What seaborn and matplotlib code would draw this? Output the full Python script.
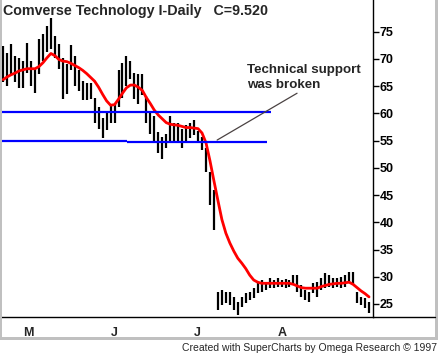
import numpy as np
import pandas as pd
import matplotlib
matplotlib.use("Agg")
import matplotlib.pyplot as plt
import seaborn as sns
from matplotlib.lines import Line2D
from matplotlib.patches import Rectangle

# daily high / low, Apr 24 - Sep 4 1997 (trading days)
high = [72.4, 71.0, 72.8, 70.6, 70.2, 69.7, 73.0, 69.7, 68.2, 73.7,
        74.6, 76.1, 77.6, 74.3, 72.8, 70.2, 69.1, 72.5, 70.5, 67.9,
        66.0, 65.5, 65.5, 62.9, 61.1, 59.2, 60.0, 61.8, 61.8, 67.9,
        69.3, 70.6, 69.7, 67.5, 67.3, 67.3, 63.2, 60.5, 59.6, 56.5,
        55.6, 56.3, 59.6, 58.2, 58.2, 57.2, 57.8, 58.3, 58.7, 56.8,
        55.6, 53.6, 49.2, 45.9, 27.2, 27.6, 27.2, 27.2, 26.3, 25.4,
        26.3, 27.0, 27.2, 27.9, 29.0, 29.4, 29.0, 29.8, 29.4, 29.8,
        29.4, 29.6, 29.4, 30.3, 30.3, 28.5, 27.6, 27.2, 28.8, 29.0,
        29.8, 30.7, 30.3, 29.8, 29.8, 30.0, 30.3, 30.9, 30.9, 27.2,
        26.3, 26.1, 25.4]
low = [65.7, 65.1, 67.0, 65.7, 64.7, 64.6, 67.5, 65.1, 63.8, 67.3,
       69.7, 71.2, 71.9, 70.1, 68.2, 62.7, 63.6, 68.0, 65.0, 64.2,
       62.4, 62.4, 62.7, 58.3, 57.2, 55.4, 56.9, 58.2, 58.3, 61.1,
       62.9, 65.1, 66.4, 62.7, 61.8, 63.3, 58.2, 56.3, 54.5, 52.8,
       51.7, 53.6, 54.5, 55.0, 54.5, 53.6, 54.7, 55.4, 56.0, 54.5,
       53.2, 49.2, 43.1, 38.6, 23.9, 24.8, 25.2, 24.8, 23.9, 23.0,
       24.4, 25.2, 25.7, 26.1, 27.0, 27.2, 27.6, 27.9, 27.9, 28.1,
       28.1, 27.9, 28.1, 28.5, 27.2, 26.3, 25.7, 25.4, 27.0, 26.3,
       27.6, 27.9, 28.1, 27.9, 28.1, 27.9, 28.1, 29.0, 28.5, 25.2,
       24.8, 24.2, 23.4]
moving_avg = [66.2, 66.7, 67.1, 67.4, 67.8, 68.0, 68.2, 68.2, 68.2, 68.6,
              69.3, 70.2, 71.0, 70.6, 69.9, 69.6, 69.5, 69.2, 68.8, 68.4,
              67.9, 67.3, 66.6, 65.9, 64.8, 63.5, 62.3, 61.5, 61.6, 62.6,
              63.7, 64.7, 65.2, 65.2, 64.8, 64.2, 62.9, 61.8, 60.6, 59.7,
              59.0, 58.3, 58.0, 57.9, 57.8, 57.6, 57.4, 57.4, 57.3, 57.2,
              56.4, 54.6, 51.3, 47.6, 44.0, 40.5, 38.0, 36.2, 34.7, 33.4,
              32.5, 31.5, 30.3, 29.4, 29.0, 28.8, 28.8, 28.8, 28.8, 28.8,
              28.8, 28.8, 28.8, 28.6, 28.3, 28.0, 27.9, 27.9, 27.9, 27.9,
              28.2, 28.4, 28.6, 28.7, 28.8, 28.8, 28.9, 29.0, 28.6, 28.0,
              27.4, 26.9, 26.3]

# support lines: level, first day, last day
support_level = [60.2, 54.9, 54.75]
support_start = [-0.3, -0.3, 31.1]
support_end = [67.3, 31.1, 66.3]

month_ticks = [5, 27, 48, 69]
month_labels = ["M", "J", "J", "A"]
week_ticks = [4, 9, 14, 19, 23, 33, 38, 43, 52, 57, 62, 72, 77, 82, 87]
price_ticks = [25, 30, 35, 40, 45, 50, 55, 60, 65, 70, 75]

sns.set_style("white")
plt.rcParams["font.family"] = ["Liberation Sans", "DejaVu Sans"]

days = np.arange(len(high))

fig = plt.figure(figsize=(4.38, 3.54), dpi=100)
ax = fig.add_axes([2 / 438, 37 / 354, 371 / 438, 317 / 354])

ax.vlines(days, low, high, color="black", lw=1.6)
sns.lineplot(x=days, y=moving_avg, color="#ff0000", lw=2.0, ax=ax)
for lev, x0, x1 in zip(support_level, support_start, support_end):
    ax.hlines(lev, x0, x1, color="#0000ff", lw=1.6)

ax.plot([73.9, 53.8], [63.7, 55.1], color="#4a4242", lw=0.9)
ax.text(61.3, 67.4, "Technical support", fontsize=9.6, fontweight="bold", va="baseline")
ax.text(61.3, 64.66, "was broken", fontsize=9.6, fontweight="bold", va="baseline")

ax.set_xlim(-0.3, 93.0)
ax.set_ylim(22.61, 80.82)
for s in ["top", "left"]:
    ax.spines[s].set_visible(False)
for s in ["right", "bottom"]:
    ax.spines[s].set_color("black")
    ax.spines[s].set_linewidth(1.0)

ax.yaxis.tick_right()
ax.set_yticks(price_ticks)
ax.set_yticklabels([str(p) for p in price_ticks], fontweight="bold", fontsize=9)
ax.tick_params(axis="y", direction="out", length=4, width=1, pad=1, colors="black")

ax.set_xticks(month_ticks)
ax.set_xticklabels(month_labels, fontweight="bold", fontsize=9, ha="left")
ax.set_xticks(week_ticks, minor=True)
ax.tick_params(axis="x", which="major", direction="out", length=5, width=1, pad=2)
ax.tick_params(axis="x", which="minor", direction="out", length=3, width=1)
ax.set_xlabel("")
ax.set_ylabel("")

fig.add_artist(Line2D([373 / 438, 434.5 / 438], [37 / 354, 37 / 354], color="black", lw=1.0))
fig.add_artist(Rectangle((434.5 / 438, 14 / 354), 3.5 / 438, 340 / 354, color="#c0c0c0", lw=0))
fig.add_artist(Rectangle((0, 14 / 354), 1.5 / 438, 340 / 354, color="#c0c0c0", lw=0))
fig.add_artist(Rectangle((0, 14 / 354), 1, 3.5 / 354, color="#c0c0c0", lw=0))

fig.text(3 / 438, 1 - 15 / 354, "Comverse Technology I-Daily   C=9.520",
         fontsize=10.3, fontweight="bold", va="baseline")
fig.text(437 / 438, 3 / 354, "Created with SuperCharts by Omega Research \u00a9 1997",
         fontsize=7.5, ha="right", va="baseline")

fig.savefig("out.png", dpi=100)
